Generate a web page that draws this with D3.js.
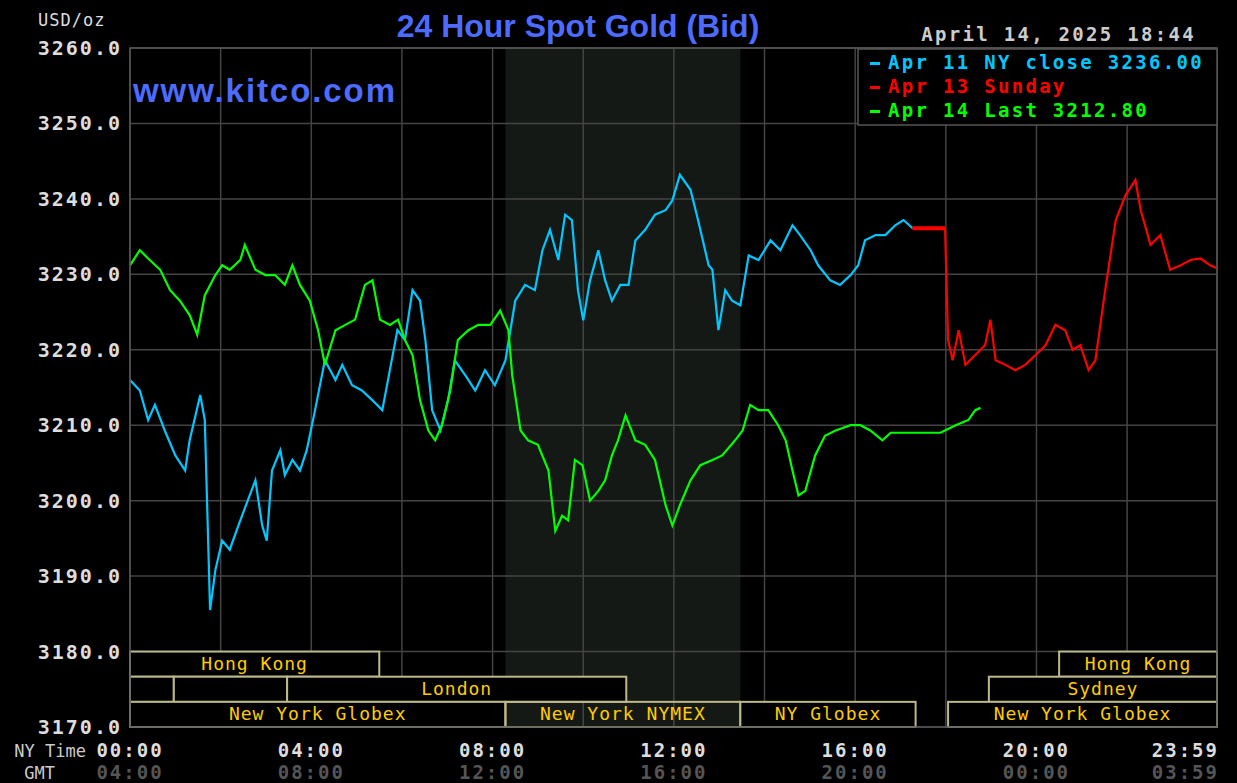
<!DOCTYPE html>
<html><head><meta charset="utf-8">
<script src="https://cdn.jsdelivr.net/npm/d3@7"></script>
<style>body{margin:0;background:#000}svg{display:block}</style>
</head><body>
<script>
// minutes since NY midnight, bid price
var apr11Min = [0,13,24,33,46,60,73,79,93,99,106,113,122,132,146,166,175,181,188,199,205,215,225,234,245,258,272,281,294,307,321,334,344,354,364,374,384,391,400,411,421,430,444,457,470,483,497,510,523,536,546,556,567,576,585,593,600,609,620,629,638,649,660,669,682,695,709,718,728,742,752,766,771,779,788,797,808,819,832,848,861,877,887,901,911,927,940,954,964,973,987,1000,1013,1024,1036];
var apr11Val = [3216,3214.6,3210.7,3212.7,3209.3,3206,3204,3208,3214,3210.7,3185.5,3190.8,3194.7,3193.5,3197.4,3202.7,3196.7,3194.7,3204,3206.7,3203.4,3205.4,3204,3206.7,3212,3218.6,3216,3218,3215.3,3214.6,3213.3,3212,3217.3,3222.6,3221.3,3227.9,3226.5,3221.3,3212,3209.3,3213.3,3218.6,3216.6,3214.6,3217.3,3215.3,3218.6,3226.5,3228.6,3227.9,3233.2,3235.9,3231.9,3237.9,3237.2,3227.9,3223.9,3229.2,3233.2,3229.2,3226.5,3228.6,3228.6,3234.5,3235.9,3237.9,3238.5,3239.8,3243.2,3241.2,3237.2,3231.2,3230.6,3222.6,3227.9,3226.5,3225.9,3232.5,3231.9,3234.5,3233.2,3236.5,3235.2,3233.2,3231.2,3229.2,3228.6,3229.9,3231.2,3234.5,3235.2,3235.2,3236.5,3237.2,3236.1];

var apr13Min = [1036,1079,1083,1089,1097,1106,1119,1132,1139,1146,1159,1172,1185,1199,1212,1225,1238,1248,1258,1269,1278,1291,1305,1318,1331,1338,1351,1364,1377,1391,1404,1417,1430,1439];
var apr13Val = [3236.1,3236.1,3221.3,3218.6,3222.6,3218,3219.3,3220.6,3224,3218.6,3218,3217.3,3218,3219.3,3220.6,3223.3,3222.6,3220,3220.6,3217.3,3218.6,3227.9,3237.2,3240.5,3242.5,3238.5,3233.9,3235.2,3230.6,3231.2,3231.9,3232.1,3231.2,3230.8];

var apr14Min = [0,13,24,40,53,66,79,89,99,113,122,132,146,152,166,179,192,205,215,225,238,249,258,272,285,298,311,321,331,344,355,364,374,384,395,404,413,424,434,448,461,477,490,501,506,517,527,540,554,563,572,580,589,599,609,620,629,638,646,656,669,682,695,709,718,728,742,755,771,784,801,811,821,832,845,858,868,877,885,894,907,920,934,954,967,980,996,1007,1026,1046,1073,1093,1110,1119,1126];
var apr14Val = [3231.2,3233.2,3232.1,3230.6,3227.9,3226.5,3224.6,3222,3227.2,3229.9,3231.2,3230.6,3231.9,3233.9,3230.6,3229.9,3229.9,3228.6,3231.2,3228.6,3226.5,3222.6,3218,3222.6,3223.3,3224,3228.6,3229.2,3224,3223.3,3224,3221.3,3219.3,3213.3,3209.3,3208,3210,3214.6,3221.3,3222.6,3223.3,3223.3,3225.2,3222.6,3216.6,3209.3,3208,3207.4,3204,3196,3198,3197.4,3205.4,3204.7,3200,3201.3,3202.7,3206,3208,3211.3,3208,3207.4,3205.4,3199.4,3196.7,3199.4,3202.7,3204.7,3205.4,3206,3208,3209.3,3212.7,3212,3212,3210,3208,3204,3200.7,3201.3,3206,3208.6,3209.3,3210,3210,3209.3,3208,3209,3209,3209,3209,3210,3210.7,3212,3212.3];

var yTicks = [3170,3180,3190,3200,3210,3220,3230,3240,3250,3260];
var nyLabels = ["00:00","04:00","08:00","12:00","16:00","20:00","23:59"];
var gmtLabels = ["04:00","08:00","12:00","16:00","20:00","00:00","03:59"];
var labelMin = [0,240,480,720,960,1200,1439];

// sessions: [row, startMin, endMin, name]
var sessions = [
  [0,0,330,"Hong Kong"],[0,1230,1439,"Hong Kong"],
  [1,0,58,""],[1,58,208,""],[1,208,657,"London"],[1,1137,1439,"Sydney"],
  [2,0,497,"New York Globex"],[2,497,808,"New York NYMEX"],[2,808,1040,"NY Globex"],[2,1083,1439,"New York Globex"]
];
var legend = [["Apr 11 NY close 3236.00","#00c8ff"],["Apr 13 Sunday","#ff0000"],["Apr 14 Last 3212.80","#00ff00"]];

var W = 1237, H = 783, L = 130, R = 1217, T = 48, B = 727;
var mono = "'DejaVu Sans Mono', monospace";
var svg = d3.select("body").append("svg").attr("width", W).attr("height", H).style("background", "#000");
var x = d3.scaleLinear().domain([0, 1439]).range([L, R]);
var y = d3.scaleLinear().domain([3170, 3260]).range([B, T]);

function monoText(sel, size, ls) {
  return sel.attr("font-family", mono).attr("font-weight", "bold").attr("font-size", size).attr("letter-spacing", ls);
}

// NYMEX shading
svg.append("rect").attr("x", x(497)).attr("y", T).attr("width", x(808) - x(497)).attr("height", B - T).attr("fill", "#151915");

// grid
svg.append("g").selectAll("line").data(d3.range(0, 1441, 120)).enter().append("line")
  .attr("x1", d => x(Math.min(d, 1439))).attr("x2", d => x(Math.min(d, 1439)))
  .attr("y1", T).attr("y2", B).attr("stroke", "#444").attr("stroke-width", 1.5);
svg.append("g").selectAll("line").data(yTicks).enter().append("line")
  .attr("x1", L).attr("x2", R).attr("y1", d => y(d)).attr("y2", d => y(d))
  .attr("stroke", "#444").attr("stroke-width", 1.5);

// y labels
monoText(svg.append("g").selectAll("text").data(yTicks).enter().append("text")
  .attr("x", 122).attr("y", d => y(d) + 7).attr("text-anchor", "end").attr("fill", "#ddd"), 20, 2)
  .text(d => d.toFixed(1));
monoText(svg.append("text").attr("x", 38).attr("y", 26).attr("fill", "#ddd"), 17, 1).attr("font-weight", "normal").text("USD/oz");

// sessions
var rowH = (y(3170) - y(3180)) / 3;
var sg = svg.append("g").selectAll("g").data(sessions).enter().append("g");
sg.append("rect").attr("x", d => x(d[1])).attr("width", d => x(d[2]) - x(d[1]))
  .attr("y", d => y(3180) + d[0] * rowH).attr("height", rowH)
  .attr("fill", "#000").attr("fill-opacity", d => d[3] === "New York NYMEX" ? 0 : 1)
  .attr("stroke", "#bdb98a").attr("stroke-width", 2);
monoText(sg.append("text").attr("x", d => (x(d[1]) + x(d[2])) / 2).attr("y", d => y(3180) + d[0] * rowH + 18)
  .attr("text-anchor", "middle").attr("fill", "#ffcc00"), 18, 1).attr("font-weight", "normal")
  .text(d => d[3]);

// lines
var line = d3.line().x(d => x(d[0])).y(d => y(d[1]));
function draw(m, v, c) {
  svg.append("path").datum(d3.zip(m, v)).attr("d", line).attr("fill", "none").attr("stroke", c).attr("stroke-width", 2.2);
}
draw(apr11Min, apr11Val, "#00c8ff");
draw(apr14Min, apr14Val, "#00ff00");
draw(apr13Min, apr13Val, "#ff0000");
svg.append("line").attr("x1", x(1036)).attr("x2", x(1079)).attr("y1", y(3236.1)).attr("y2", y(3236.1))
  .attr("stroke", "#ff0000").attr("stroke-width", 4);

// border
svg.append("rect").attr("x", L).attr("y", T).attr("width", R - L).attr("height", B - T)
  .attr("fill", "none").attr("stroke", "#555").attr("stroke-width", 1.5);

// x labels
function anchor(i) { return i === 0 ? "middle" : (i === labelMin.length - 1 ? "end" : "middle"); }
monoText(svg.append("g").selectAll("text").data(labelMin).enter().append("text")
  .attr("x", (d, i) => i === labelMin.length - 1 ? x(d) + 2 : x(d)).attr("y", 757).attr("text-anchor", (d, i) => anchor(i))
  .attr("fill", "#ddd"), 19, 2).text((d, i) => nyLabels[i]);
monoText(svg.append("g").selectAll("text").data(labelMin).enter().append("text")
  .attr("x", (d, i) => i === labelMin.length - 1 ? x(d) + 2 : x(d)).attr("y", 779).attr("text-anchor", (d, i) => anchor(i))
  .attr("fill", "#555"), 19, 2).text((d, i) => gmtLabels[i]);
monoText(svg.append("text").attr("x", 86).attr("y", 757).attr("text-anchor", "end").attr("fill", "#ccc"), 17, 0)
  .attr("font-weight", "normal").text("NY Time");
monoText(svg.append("text").attr("x", 55).attr("y", 779).attr("text-anchor", "end").attr("fill", "#ccc"), 17, 0)
  .attr("font-weight", "normal").text("GMT");

// title
svg.append("text").attr("x", 578).attr("y", 37).attr("text-anchor", "middle").attr("fill", "#4d6bff")
  .attr("font-family", "'Liberation Sans', Arial, sans-serif").attr("font-weight", "bold").attr("font-size", 32).text("24 Hour Spot Gold (Bid)");
svg.append("text").attr("x", 133).attr("y", 102).attr("fill", "#4d6bff").attr("textLength", 262)
  .attr("font-family", "'Liberation Sans', Arial, sans-serif").attr("font-weight", "bold").attr("font-size", 33).text("www.kitco.com");
monoText(svg.append("text").attr("x", 1196).attr("y", 41).attr("text-anchor", "end").attr("fill", "#ccc"), 19, 2.3)
  .text("April 14, 2025 18:44");

// legend
svg.append("rect").attr("x", 858).attr("y", 49).attr("width", 359).attr("height", 76)
  .attr("fill", "#000").attr("stroke", "#555").attr("stroke-width", 1.5);
var lg = svg.append("g").selectAll("g").data(legend).enter().append("g")
  .attr("transform", (d, i) => "translate(868," + (69 + i * 24) + ")");
lg.append("rect").attr("x", 2).attr("y", -7).attr("width", 10).attr("height", 3).attr("fill", d => d[1]);
monoText(lg.append("text").attr("x", 20).attr("fill", d => d[1]), 19, 2.3).text(d => d[0]);
</script>
</body></html>
